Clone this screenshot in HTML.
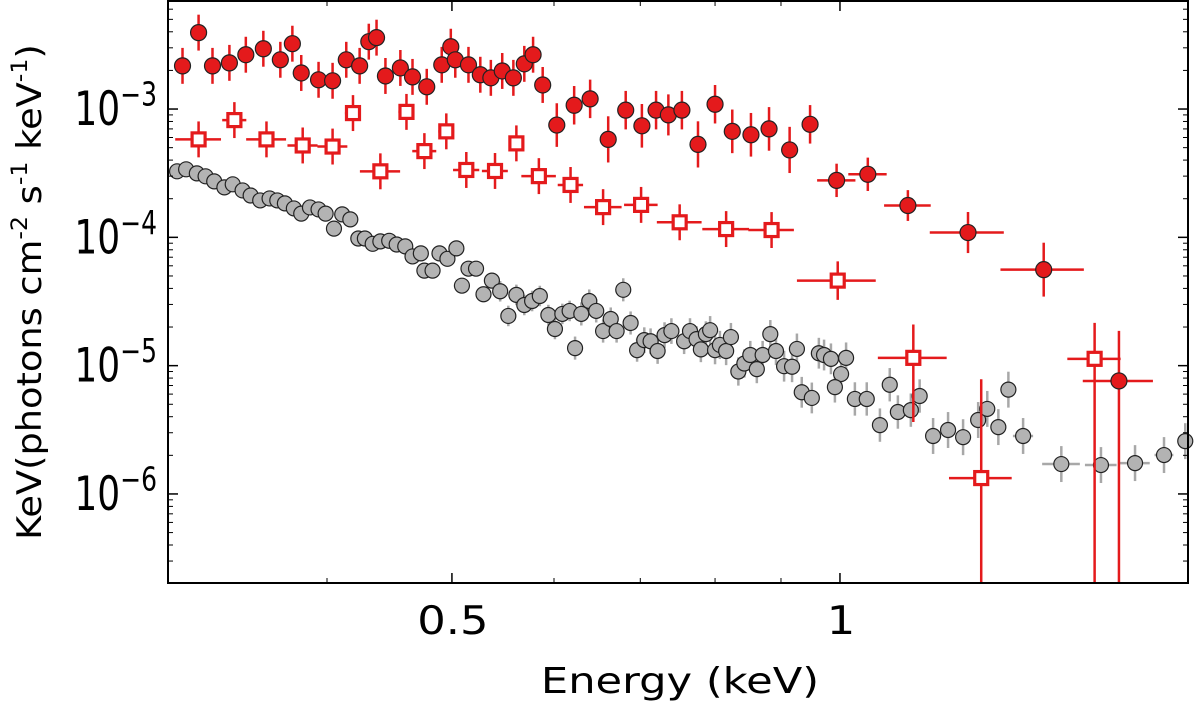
<!DOCTYPE html>
<html><head><meta charset="utf-8">
<style>
html,body{margin:0;padding:0;background:#fff;}
svg{display:block;font-family:"DejaVu Sans","Liberation Sans",sans-serif;}
</style></head>
<body>
<svg id="chart" width="1200" height="701" viewBox="0 0 1200 701" xmlns="http://www.w3.org/2000/svg">
  <g id="grey-layer"></g>
  <g id="sq-layer"></g>
  <g id="red-layer"></g>
  <rect x="168" y="1" width="1020" height="582" fill="none" stroke="#000" stroke-width="2"/>
  <g id="ticks"></g>
  <g id="xlabels"></g>
  <g id="ylabels"></g>
  <text transform="translate(680,693) scale(1.2,1)" text-anchor="middle" font-size="36">Energy (keV)</text>
  <text transform="translate(41,292) rotate(-90) scale(1.08,1)" text-anchor="middle" font-size="34">KeV(photons cm<tspan dy="-14" font-size="22">-2</tspan><tspan dy="14"> s</tspan><tspan dy="-14" font-size="22">-1</tspan><tspan dy="14"> keV</tspan><tspan dy="-14" font-size="22">-1</tspan><tspan dy="14">)</tspan></text>
</svg>
<script>
// ---- data ----
const redE = [0.309,0.318,0.326,0.336,0.346,0.357,0.368,0.376,0.382,0.394,0.404,0.414,0.424,0.431,0.437,0.444,0.456,0.466,0.478,0.491,0.499,0.503,0.515,0.526,0.536,0.547,0.558,0.569,0.578,0.588,0.603,0.622,0.640,0.661,0.682,0.702,0.720,0.736,0.754,0.776,0.800,0.825,0.853,0.881,0.914,0.948,0.994,1.051,1.129,1.257,1.439,1.646];
const redV = [2.17e-3,3.94e-3,2.17e-3,2.29e-3,2.65e-3,2.95e-3,2.42e-3,3.23e-3,1.91e-3,1.69e-3,1.66e-3,2.42e-3,2.17e-3,3.35e-3,3.60e-3,1.81e-3,2.09e-3,1.78e-3,1.49e-3,2.21e-3,3.06e-3,2.42e-3,2.21e-3,1.85e-3,1.75e-3,1.98e-3,1.75e-3,2.25e-3,2.65e-3,1.54e-3,7.5e-4,1.07e-3,1.20e-3,5.8e-4,9.8e-4,7.4e-4,9.8e-4,9.0e-4,9.8e-4,5.3e-4,1.09e-3,6.7e-4,6.3e-4,7.0e-4,4.8e-4,7.6e-4,2.78e-4,3.10e-4,1.77e-4,1.09e-4,5.6e-5,7.6e-6];
const redErrUp = [0.14,0.14,0.14,0.14,0.14,0.14,0.14,0.14,0.14,0.14,0.14,0.14,0.14,0.14,0.14,0.14,0.14,0.14,0.14,0.14,0.14,0.14,0.14,0.14,0.14,0.14,0.14,0.14,0.14,0.14,0.17,0.15,0.15,0.18,0.15,0.17,0.15,0.16,0.15,0.18,0.15,0.17,0.17,0.17,0.18,0.15,0.13,0.13,0.12,0.16,0.21,0.39];
const redErrDn = [0.14,0.14,0.14,0.14,0.14,0.14,0.14,0.14,0.14,0.14,0.14,0.14,0.14,0.14,0.14,0.14,0.14,0.14,0.14,0.14,0.14,0.14,0.14,0.14,0.14,0.14,0.14,0.14,0.14,0.14,0.17,0.15,0.15,0.18,0.15,0.17,0.15,0.16,0.15,0.18,0.15,0.17,0.17,0.17,0.18,0.15,0.13,0.13,0.12,0.16,0.21,3.0];
const redXerr = [0,0,0,0,0,0,0,0,0,0,0,0,0,0,0,0,0,0,0,0,0,0,0,0,0,0,0,0,0,0,0,0,0,0,0,0,0,0,0,0,0,0,0,0,0,0,0.034,0.036,0.047,0.083,0.107,0.103];

const sqE = [0.318,0.339,0.359,0.383,0.404,0.419,0.440,0.461,0.476,0.495,0.513,0.540,0.561,0.584,0.618,0.655,0.701,0.751,0.816,0.885,0.996,1.140,1.287,1.576];
const sqV = [5.8e-4,8.2e-4,5.8e-4,5.2e-4,5.1e-4,9.3e-4,3.27e-4,9.5e-4,4.7e-4,6.7e-4,3.35e-4,3.29e-4,5.4e-4,3.0e-4,2.56e-4,1.72e-4,1.79e-4,1.31e-4,1.16e-4,1.14e-4,4.6e-5,1.15e-5,1.33e-6,1.13e-5];
const sqErrUp = [0.14,0.14,0.14,0.14,0.14,0.14,0.14,0.14,0.14,0.14,0.14,0.14,0.14,0.14,0.14,0.14,0.14,0.14,0.14,0.14,0.15,0.26,0.77,0.28];
const sqErrDn = [0.14,0.14,0.14,0.14,0.14,0.14,0.14,0.14,0.14,0.14,0.14,0.14,0.14,0.14,0.14,0.14,0.14,0.14,0.14,0.14,0.15,0.5,3.0,3.0];
const sqXerr = [0.013,0.0073,0.0128,0.0103,0.0108,0.006,0.0158,0.0066,0.0102,0.007,0.012,0.0125,0.006,0.018,0.014,0.022,0.021,0.030,0.034,0.036,0.07,0.07,0.072,0.075];

const greyE = [0.306,0.311,0.317,0.322,0.327,0.333,0.338,0.344,0.349,0.355,0.361,0.366,0.371,0.377,0.382,0.388,0.394,0.399,0.405,0.411,0.417,0.423,0.428,0.434,0.440,0.447,0.453,0.460,0.466,0.473,0.476,0.483,0.489,0.496,0.504,0.509,0.515,0.522,0.529,0.537,0.545,0.553,0.561,0.569,0.577,0.585,0.594,0.601,0.609,0.617,0.623,0.630,0.639,0.647,0.655,0.664,0.671,0.679,0.688,0.696,0.705,0.713,0.722,0.731,0.740,0.757,0.765,0.774,0.780,0.787,0.793,0.800,0.807,0.816,0.823,0.834,0.843,0.852,0.862,0.871,0.883,0.892,
0.905,0.926,0.918,0.934,0.951,0.963,0.972,0.984,1.011,1.002,0.991,1.027,1.049,1.074,1.093,1.109,1.135,1.153,1.181,1.213,1.246,1.280,1.301,1.327,1.351,1.387,1.485,1.594,1.694,1.784,1.853];
const greyV = [3.27e-4,3.39e-4,3.15e-4,2.99e-4,2.73e-4,2.45e-4,2.59e-4,2.32e-4,2.12e-4,1.94e-4,2.01e-4,1.94e-4,1.84e-4,1.68e-4,1.53e-4,1.71e-4,1.65e-4,1.53e-4,1.17e-4,1.51e-4,1.38e-4,9.8e-5,9.8e-5,8.9e-5,9.3e-5,9.4e-5,8.8e-5,8.5e-5,7.1e-5,7.5e-5,5.5e-5,5.5e-5,7.5e-5,6.8e-5,8.2e-5,4.2e-5,5.7e-5,5.7e-5,3.6e-5,4.6e-5,3.8e-5,2.44e-5,3.56e-5,2.97e-5,3.19e-5,3.49e-5,2.48e-5,1.93e-5,2.53e-5,2.67e-5,1.37e-5,2.53e-5,3.19e-5,2.67e-5,1.86e-5,2.31e-5,1.86e-5,3.9e-5,2.15e-5,1.32e-5,1.58e-5,1.55e-5,1.30e-5,1.73e-5,1.86e-5,1.55e-5,1.86e-5,1.61e-5,1.34e-5,1.76e-5,1.89e-5,1.32e-5,1.45e-5,1.30e-5,1.67e-5,9.0e-6,1.04e-5,1.21e-5,9.4e-6,1.21e-5,1.76e-5,1.30e-5,
9.9e-6,1.35e-5,9.8e-6,6.2e-6,5.6e-6,1.25e-5,1.21e-5,1.13e-5,1.15e-5,8.6e-6,6.8e-6,5.5e-6,5.5e-6,3.44e-6,7.1e-6,4.35e-6,4.5e-6,5.8e-6,2.83e-6,3.15e-6,2.77e-6,3.77e-6,4.6e-6,3.32e-6,6.5e-6,2.83e-6,1.71e-6,1.68e-6,1.74e-6,2.01e-6,2.58e-6];
const greyErr = [0.03,0.03,0.03,0.03,0.03,0.03,0.03,0.03,0.03,0.03,0.03,0.03,0.03,0.03,0.03,0.03,0.03,0.03,0.03,0.03,0.05,0.05,0.05,0.05,0.05,0.05,0.05,0.05,0.05,0.05,0.06,0.06,0.06,0.06,0.06,0.06,0.06,0.06,0.06,0.06,0.08,0.08,0.08,0.08,0.08,0.08,0.08,0.08,0.08,0.08,0.09,0.09,0.09,0.09,0.09,0.09,0.09,0.09,0.09,0.09,0.10,0.10,0.10,0.10,0.10,0.10,0.10,0.10,0.10,0.10,0.11,0.11,0.11,0.11,0.11,0.11,0.11,0.11,0.11,0.11,0.11,0.11,
0.12,0.12,0.12,0.12,0.12,0.12,0.12,0.12,0.12,0.12,0.12,0.13,0.13,0.13,0.13,0.13,0.13,0.13,0.14,0.14,0.14,0.14,0.14,0.14,0.14,0.14,0.14,0.14,0.14,0.14,0.14];
const greyXerr = [0,0,0,0,0,0,0,0,0,0,0,0,0,0,0,0,0,0,0,0,0,0,0,0,0,0,0,0,0,0,0,0,0,0,0,0,0,0,0,0,0,0,0,0,0,0,0,0,0,0,0,0,0,0,0,0,0,0,0,0,0,0,0,0,0,0,0,0,0,0,0,0,0,0,0,0,0,0,0,0,0,0,
0,0,0,0,0,0,0,0,0,0,0,0,0,0,0,0,0,0,0,0,0,0,0.01,0.015,0.01,0.025,0.05,0.045,0.045,0.03,0.025];

const xMajorTicks = [0.5, 1];
const xMajorLabels = ["0.5", "1"];
const xMinorTicks = [0.3,0.4,0.6,0.7,0.8,0.9,2];
const yDecades = [-3,-4,-5,-6];
const yDecadeLabels = ["\u22123","\u22124","\u22125","\u22126"];

// ---- axes ----
const L=168,R=1188,T=1,B=583;
const xLogMin=-0.5213, xLogMax=0.2700;
const yLogMax=-2.158, yLogMin=-6.694;
function X(e){return L+(Math.log10(e)-xLogMin)/(xLogMax-xLogMin)*(R-L);}
function Y(v){return T+(yLogMax-Math.log10(v))/(yLogMax-yLogMin)*(B-T);}
function YL(l){return T+(yLogMax-l)/(yLogMax-yLogMin)*(B-T);}
const NS='http://www.w3.org/2000/svg';
function mk(tag,attrs,parent){const el=document.createElementNS(NS,tag);for(const k in attrs)el.setAttribute(k,attrs[k]);parent.appendChild(el);return el;}
const clampY=y=>Math.max(T,Math.min(B,y));

// ticks
const tg=document.getElementById('ticks');
xMajorTicks.forEach(t=>{const x=X(t);
  let a=mk('line',{x1:x,y1:B,x2:x,y2:B-10,stroke:'#000','stroke-width':1.5},tg);
  
  
  let b=mk('line',{x1:x,y1:T,x2:x,y2:T+10,stroke:'#000','stroke-width':1.5},tg);
  
  });
xMinorTicks.forEach(t=>{const x=X(t); if(x<=L+1||x>=R-1)return;
  let a=mk('line',{x1:x,y1:B,x2:x,y2:B-5,stroke:'#000','stroke-width':1},tg);
  
  
  let b=mk('line',{x1:x,y1:T,x2:x,y2:T+5,stroke:'#000','stroke-width':1},tg);
  
  });
for(let d=-7;d<=-2;d++){for(let m=1;m<=9;m++){const y=YL(d+Math.log10(m)); if(y<T+1||y>B-1)continue;
  const len=m===1?10:5, w=m===1?1.5:1;
  let a=mk('line',{x1:L,y1:y,x2:L+len,y2:y,stroke:'#000','stroke-width':w},tg);
  
  
  let b=mk('line',{x1:R,y1:y,x2:R-len,y2:y,stroke:'#000','stroke-width':w},tg);
  
  }}
const xl=document.getElementById('xlabels');
xMajorTicks.forEach((t,i)=>{const el=mk('text',{transform:'translate('+(X(t)+1)+',634) scale(1.15,1)','text-anchor':'middle','font-size':39},xl);el.textContent=xMajorLabels[i];
  
  });
const yl=document.getElementById('ylabels');
yDecades.forEach((d,i)=>{const y=YL(d);const el=mk('text',{transform:'translate(157,'+(y+16)+') scale(1,1.3)','text-anchor':'end','font-size':36},yl);
  
  
  const a=document.createElementNS(NS,'tspan');a.textContent='10';el.appendChild(a);
  const s=document.createElementNS(NS,'tspan');s.setAttribute('dy','-15');s.setAttribute('font-size','25');s.textContent=yDecadeLabels[i];el.appendChild(s);});

// errorbar helper
function errbars(g,E,V,up,dn,xe,color,w){
  for(let i=0;i<E.length;i++){const x=X(E[i]),y=Y(V[i]);
    const y1=clampY(YL(Math.log10(V[i])+up[i])), y2=clampY(YL(Math.log10(V[i])-dn[i]));
    const v=mk('line',{x1:x,y1:y1,x2:x,y2:y2,stroke:color,'stroke-width':w},g);
    
    
    if(xe[i]>0){const h=mk('line',{x1:X(E[i]-xe[i]),y1:y,x2:X(E[i]+xe[i]),y2:y,stroke:color,'stroke-width':w},g);
      
      }
  }
}
// grey
const gg=document.getElementById('grey-layer');
errbars(gg,greyE,greyV,greyErr,greyErr,greyXerr,'#a8a8a8',2.5);
for(let i=0;i<greyE.length;i++){const c=mk('circle',{cx:X(greyE[i]),cy:Y(greyV[i]),r:7.5,fill:'#b3b3b3',stroke:'#222','stroke-width':1.2},gg);
  
  }
// squares
const sg=document.getElementById('sq-layer');
errbars(sg,sqE,sqV,sqErrUp,sqErrDn,sqXerr,'#e41a1c',2.5);
for(let i=0;i<sqE.length;i++){const x=X(sqE[i]),y=Y(sqV[i]);const r=mk('rect',{x:x-6.5,y:y-6.5,width:13,height:13,fill:'#fff',stroke:'#e41a1c','stroke-width':3.2},sg);
  
  }
// red circles
const rg=document.getElementById('red-layer');
errbars(rg,redE,redV,redErrUp,redErrDn,redXerr,'#e41a1c',2.5);
for(let i=0;i<redE.length;i++){const c=mk('circle',{cx:X(redE[i]),cy:Y(redV[i]),r:8,fill:'#e41a1c',stroke:'#222','stroke-width':1.2},rg);
  
  }
</script>
</body></html>
